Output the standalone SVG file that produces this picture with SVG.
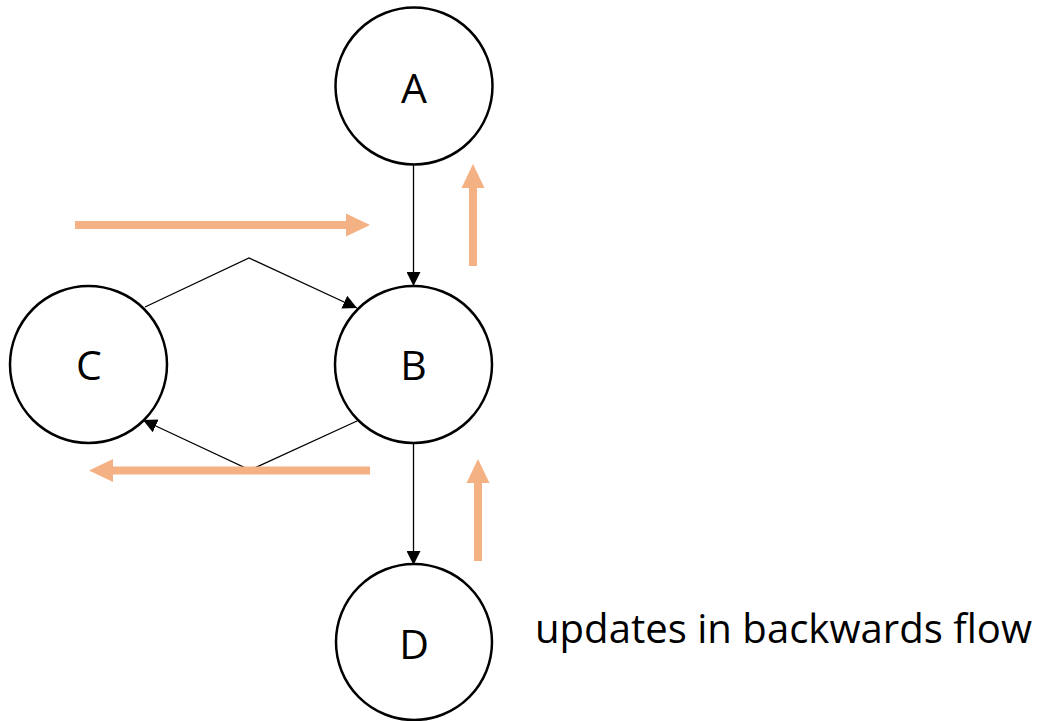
<svg xmlns="http://www.w3.org/2000/svg" width="1058" height="721" viewBox="0 0 1058 721">
  <style>
    .node { fill: #ffffff; stroke: #000000; stroke-width: 2.5; }
    .label { font-family: "Open Sans", "Liberation Sans", sans-serif; font-size: 41px; fill: #000000; text-anchor: middle; }
    .edge { fill: none; stroke: #000000; stroke-width: 1.3; }
    .flow { fill: none; stroke: #F4B183; stroke-width: 8; }
    .flowhead { fill: #F4B183; }
    .note { font-family: "Open Sans", "Liberation Sans", sans-serif; font-size: 41px; fill: #000000; }
  </style>
  <defs>
    <marker id="arrow" viewBox="0 0 14 14" refX="14" refY="7" markerWidth="14" markerHeight="14" markerUnits="userSpaceOnUse" orient="auto">
      <path d="M0,0 L14,7 L0,14 Z" fill="#000000"/>
    </marker>
  </defs>
  <rect width="1058" height="721" fill="#ffffff"/>

  <!-- connectors between nodes -->
  <g id="connectors">
    <line class="edge" x1="413.5" y1="165" x2="413.5" y2="286" marker-end="url(#arrow)"/>
    <polyline class="edge" points="145,307 249,258 357,308" marker-end="url(#arrow)"/>
    <polyline class="edge" points="357,421 250,470 143,420" marker-end="url(#arrow)"/>
    <line class="edge" x1="413.5" y1="443" x2="413.5" y2="565" marker-end="url(#arrow)"/>
  </g>

  <!-- flow direction arrows -->
  <g id="flow-arrows">
    <line class="flow" x1="75" y1="225" x2="348" y2="225"/>
    <polygon class="flowhead" points="346,213.5 370,225 346,236.5"/>
    <line class="flow" x1="473" y1="266" x2="473" y2="186"/>
    <polygon class="flowhead" points="461.5,188 473,164 484.5,188"/>
    <line class="flow" x1="370" y1="470.5" x2="111" y2="470.5"/>
    <polygon class="flowhead" points="113,459 89,470.5 113,482"/>
    <line class="flow" x1="478" y1="561" x2="478" y2="481"/>
    <polygon class="flowhead" points="466.5,483 478,459 489.5,483"/>
  </g>

  <g id="node-A">
    <circle class="node" cx="414" cy="86" r="78.5"/>
    <text class="label" x="414" y="103">A</text>
  </g>
  <g id="node-B">
    <circle class="node" cx="413.5" cy="364.5" r="78.5"/>
    <text class="label" x="413.5" y="380">B</text>
  </g>
  <g id="node-C">
    <circle class="node" cx="88.5" cy="364.5" r="78.5"/>
    <text class="label" x="89" y="380">C</text>
  </g>
  <g id="node-D">
    <circle class="node" cx="414" cy="642" r="78"/>
    <text class="label" x="414" y="659">D</text>
  </g>

  <text class="note" x="535" y="643" textLength="497" lengthAdjust="spacingAndGlyphs">updates in backwards flow</text>
</svg>
